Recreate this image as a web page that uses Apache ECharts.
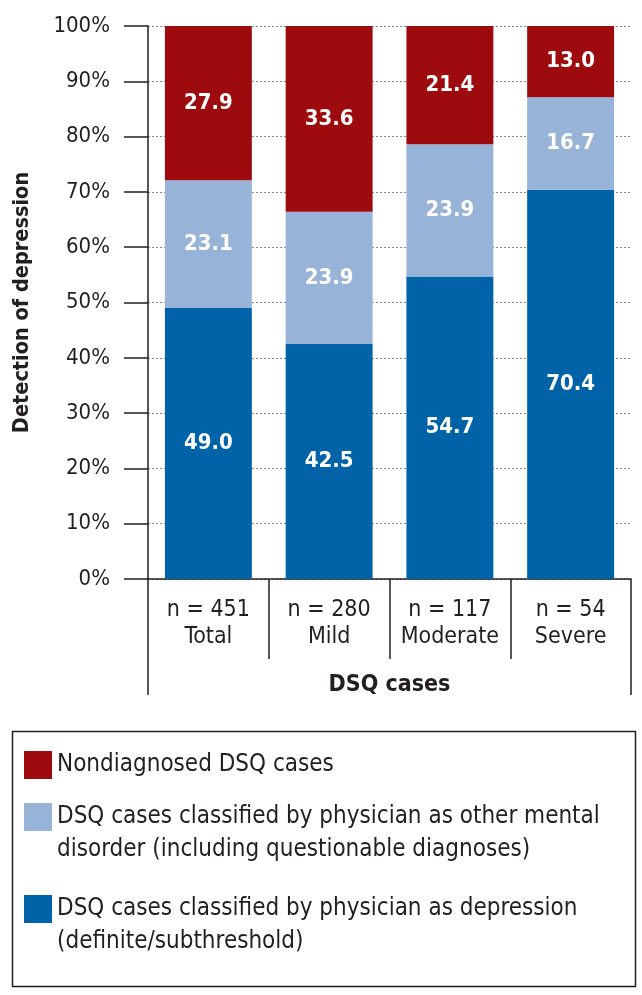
<!DOCTYPE html>
<html lang="en">
  <head>
    <meta charset="UTF-8" />
    <title>Detection of depression</title>
    <script src="https://cdn.jsdelivr.net/npm/echarts@6.0.0/dist/echarts.min.js"></script>
    <style>
      html, body { margin: 0; padding: 0; background: #fff; }
      #main { width: 642px; height: 995px; }
    </style>
  </head>
  <body>
    <div id="main"></div>
    <script>
      // data
      const categories = ["n = 451\nTotal", "n = 280\nMild", "n = 117\nModerate", "n = 54\nSevere"];
      const depression = [49.0, 42.5, 54.7, 70.4];
      const otherDisorder = [23.1, 23.9, 23.9, 16.7];
      const nondiagnosed = [27.9, 33.6, 21.4, 13.0];
      const groupTitle = ["DSQ cases"];
      const seriesNames = [
        "Nondiagnosed DSQ cases",
        "DSQ cases classified by physician as other mental\ndisorder (including questionable diagnoses)",
        "DSQ cases classified by physician as depression\n(definite/subthreshold)"
      ];

      const FONT = "'Liberation Sans Narrow', 'DejaVu Sans Condensed', 'Liberation Sans', sans-serif";
      const INK = "#231f20";

      let myChart = echarts.init(document.getElementById("main"));

      function barSeries(name, data, color) {
        return {
          name: name,
          type: "bar",
          stack: "all",
          barWidth: "72%",
          data: data,
          itemStyle: { color: color },
          label: {
            show: true,
            position: "inside",
            color: "#fff",
            fontFamily: FONT,
            fontWeight: "bold",
            fontSize: 22,
            formatter: (p) => p.value.toFixed(1)
          }
        };
      }

      // one legend per entry so the square lines up with the first text line
      function legendBlock(name, top, twoLines) {
        return {
          orient: "vertical",
          left: 24,
          top: top,
          padding: 0,
          itemWidth: 28,
          itemHeight: twoLines ? 61 : 28,
          itemTextGap: 10,
          // square at the top, invisible point keeps the icon box 61 tall
          icon: twoLines ? "path://M0,0L28,0L28,28L0,28Z M0,60.9L0,61" : "rect",
          textStyle: { color: INK, fontSize: 24, lineHeight: 33, fontFamily: FONT },
          data: [name]
        };
      }

      let options = {
        animation: false,
        textStyle: { fontFamily: FONT },
        grid: { left: 148, right: 11, top: 26, bottom: 416, containLabel: false, outerBoundsMode: "none" },
        xAxis: [
          {
            type: "category",
            position: "bottom",
            data: categories,
            axisLine: { show: true, lineStyle: { color: INK, width: 1.5 } },
            axisTick: { show: true, interval: 0, length: 80, lineStyle: { color: INK, width: 1.5 } },
            axisLabel: { interval: 0, margin: 18, color: INK, fontSize: 23, lineHeight: 27, fontFamily: FONT }
          },
          {
            type: "category",
            position: "bottom",
            data: groupTitle,
            axisLine: { show: false },
            axisTick: { show: true, length: 116, lineStyle: { color: INK, width: 1.5 } },
            axisLabel: { margin: 95, color: INK, fontSize: 23, fontWeight: "bold", fontFamily: FONT }
          }
        ],
        yAxis: {
          type: "value",
          min: 0,
          max: 100,
          interval: 10,
          name: "Detection of depression",
          nameLocation: "middle",
          nameGap: 115,
          nameTextStyle: { color: INK, fontSize: 21.5, fontWeight: "bold", fontFamily: FONT },
          axisLine: { show: true, lineStyle: { color: INK, width: 1.5 } },
          axisTick: { show: true, length: 24, lineStyle: { color: INK, width: 1.5 } },
          axisLabel: { margin: 38, color: INK, fontSize: 22, fontFamily: FONT, formatter: "{value}%" },
          splitLine: { show: true, lineStyle: { color: "#8a8a8a", type: [2, 2], width: 1 } }
        },
        legend: [
          legendBlock(seriesNames[0], 748.5, false),
          legendBlock(seriesNames[1], 800.5, true),
          legendBlock(seriesNames[2], 892.5, true)
        ],
        graphic: [
          {
            type: "rect",
            left: 10,
            top: 729,
            shape: { width: 623, height: 255 },
            style: { fill: "none", stroke: INK, lineWidth: 1.5 }
          }
        ],
        series: [
          barSeries(seriesNames[2], depression, "#0063a7"),
          barSeries(seriesNames[1], otherDisorder, "#97b3d8"),
          barSeries(seriesNames[0], nondiagnosed, "#9e0b0f")
        ]
      };

      myChart.setOption(options);
    </script>
  </body>
</html>
